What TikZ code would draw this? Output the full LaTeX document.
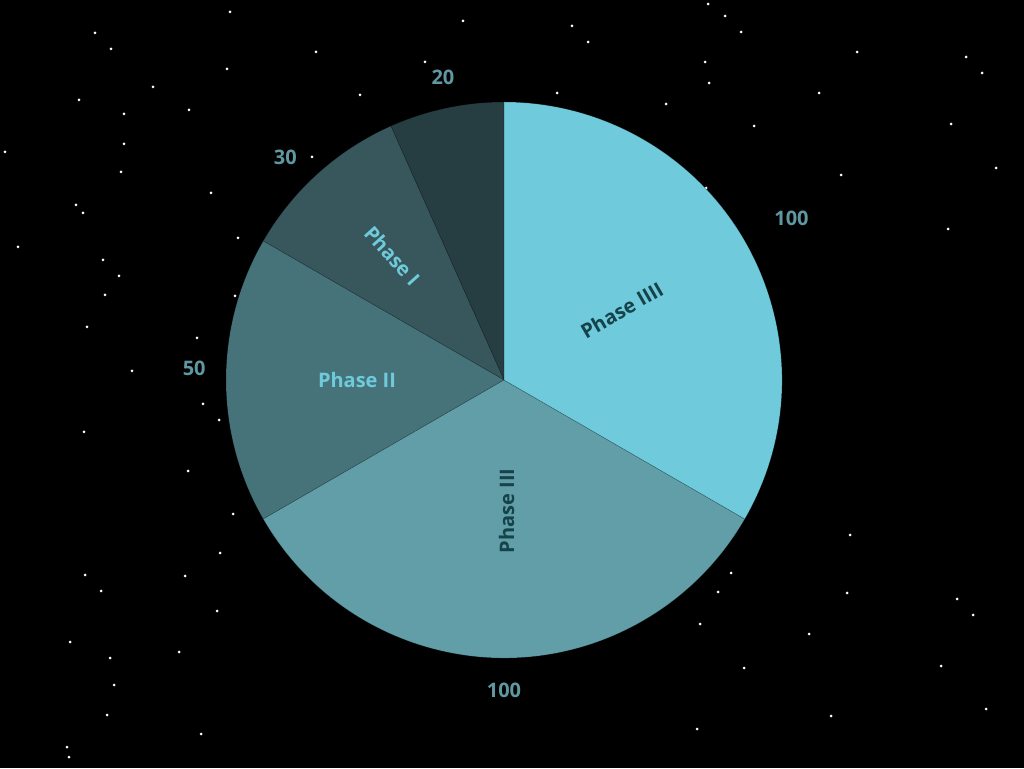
\documentclass[tikz,border=0pt]{standalone}
\usepackage{fontspec}
\setmainfont{Open Sans}
\usetikzlibrary{positioning}

\definecolor{phaseA}{RGB}{38,61,65}
\definecolor{phaseB}{RGB}{55,87,92}
\definecolor{phaseC}{RGB}{70,115,122}
\definecolor{phaseD}{RGB}{97,158,168}
\definecolor{phaseE}{RGB}{111,202,219}
\definecolor{darktext}{RGB}{22,66,74}
\definecolor{valuetext}{RGB}{96,152,162}

\begin{document}
\begin{tikzpicture}[x=1pt, y=1pt, slice/.style={draw=black, draw opacity=0.3, line width=0.5pt}, phase label/.style={font=\fontsize{20}{24}\selectfont\bfseries, inner sep=0pt}, value label/.style={font=\fontsize{20}{24}\selectfont\bfseries, text=valuetext, inner sep=0pt}, star/.style={fill=white}]

  % Background
  \fill[black] (0,0) rectangle (1024,768);
  \useasboundingbox (0,0) rectangle (1024,768);

  % Stars
  \foreach \sx/\sy in {230/12, 463/21, 95/33, 111/49, 316/52, 425/62, 227/69, 153/87, 360/95, 79/100, 189/110, 124/114, 124/144, 5/152, 312/157, 121/172, 211/193, 76/205, 83/213, 238/238, 18/247, 103/260, 119/276, 235/296, 105/295, 87/327, 197/338, 132/371, 708/4, 725/16, 572/26, 741/32, 588/42, 857/52, 966/57, 705/62, 982/73, 709/83, 557/93, 819/93, 666/104, 754/126, 951/124, 996/168, 841/175, 706/188, 948/229, 203/404, 219/420, 84/432, 188/471, 233/514, 220/553, 85/575, 185/576, 101/591, 217/611, 70/642, 110/658, 179/652, 114/685, 107/715, 201/734, 67/747, 69/757, 850/535, 731/573, 718/592, 847/593, 957/599, 973/615, 700/624, 809/634, 744/668, 941/666, 986/709, 831/716, 697/729}
    \fill[star] (\sx,768-\sy) circle (1.5);

  % Pie slices
  \coordinate (c) at (504,388);
  \filldraw[slice, fill=phaseA] (c) -- ++(90:278) arc[start angle=90, end angle=114, radius=278] -- cycle;
  \filldraw[slice, fill=phaseB] (c) -- ++(114:278) arc[start angle=114, end angle=150, radius=278] -- cycle;
  \filldraw[slice, fill=phaseC] (c) -- ++(150:278) arc[start angle=150, end angle=210, radius=278] -- cycle;
  \filldraw[slice, fill=phaseD] (c) -- ++(210:278) arc[start angle=210, end angle=330, radius=278] -- cycle;
  \filldraw[slice, fill=phaseE] (c) -- ++(-30:278) arc[start angle=-30, end angle=90, radius=278] -- cycle;

  % Slice labels
  \node[phase label, text=phaseE, rotate=-48] (phaseI) at ([shift={(132:167)}]c) {Phase I};
  \node[phase label, text=phaseE] (phaseII) at ([shift={(180:147)}]c) {Phase II};
  \node[phase label, text=darktext, rotate=90] (phaseIII) at ([shift={(2.5,-131)}]c) {Phase III};
  \node[phase label, text=darktext, rotate=30] (phaseIIII) at ([shift={(30.7:137)}]c) {Phase IIII};

  % Values
  \node[value label] (valA) at ([shift={(101.4:309)}]c) {20};
  \node[value label] (valB) at ([shift={(134.5:312)}]c) {30};
  \node[value label] (valC) at ([shift={(177.8:310)}]c) {50};
  \node[value label] (valD) at ([shift={(270:310)}]c) {100};
  \node[value label] (valE) at ([shift={(29.4:330)}]c) {100};
\end{tikzpicture}
\end{document}
